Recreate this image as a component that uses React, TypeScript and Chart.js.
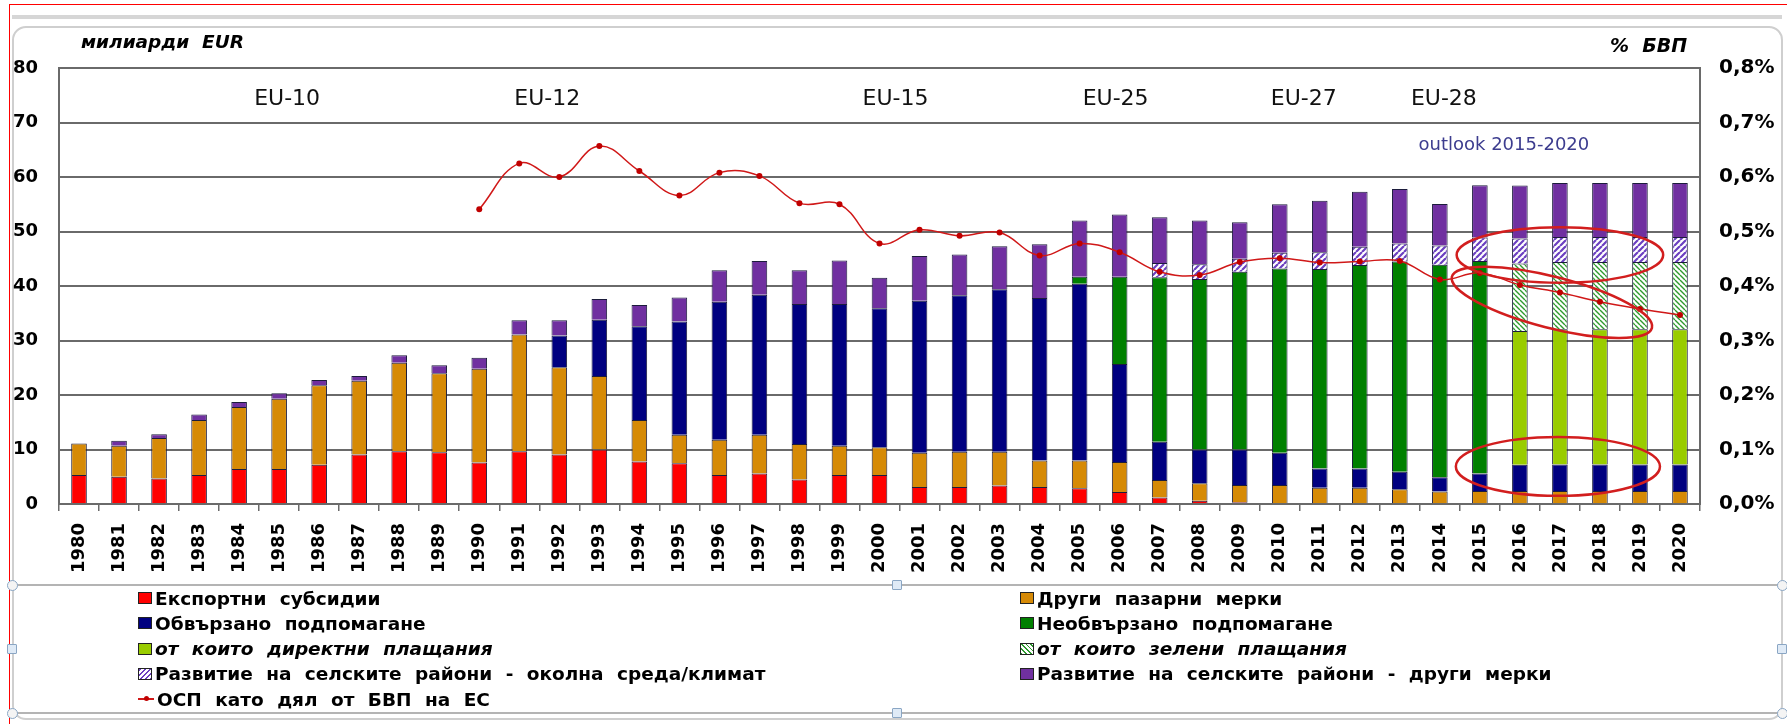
import React, { useEffect, useRef } from 'react';
import { Chart, registerables } from 'chart.js';

Chart.register(...registerables);

// ---------------- DATA ----------------
const years = ['1980','1981','1982','1983','1984','1985','1986','1987','1988','1989','1990','1991','1992','1993','1994','1995','1996','1997','1998','1999','2000','2001','2002','2003','2004','2005','2006','2007','2008','2009','2010','2011','2012','2013','2014','2015','2016','2017','2018','2019','2020'];

// billion EUR, stacked segments
const exportSubsidies = [5.3,5.0,4.7,5.3,6.4,6.4,7.2,9.1,9.7,9.5, 7.6,9.7,9.1,10.0,7.8,7.5,5.3,5.6,4.5,5.3, 5.3,3.1,3.1,3.4,3.1,2.9,2.2,1.2,0.6,0.3, null,null,null,null,null,null,null,null,null,null,null];
const otherMarketMeasures = [5.8,5.7,7.4,10.1,11.4,12.9,14.6,13.5,16.2,14.5, 17.2,21.4,16.0,13.5,7.6,5.2,6.5,7.1,6.5,5.4, 5.1,6.3,6.5,6.2,4.9,5.1,5.5,3.2,3.2,3.2, 3.5,3.0,3.0,2.7,2.3,2.4,2.4,2.4,2.4,2.4,2.4];
const coupledSupport = [null,null,null,null,null,null,null,null,null,null,null,null, 5.8,10.3,17.2,20.8,25.3,25.7,25.7,26.0, 25.5,27.9,28.7,29.8,29.8,32.4,18.0,7.0,6.2,6.5, 5.9,3.5,3.5,3.2,2.6,3.2,4.8,4.85,4.85,4.85,4.85];
const decoupledSupport = [null,null,null,null,null,null,null,null,null,null,null,null,null,null,null,null,null,null,null,null,null,null,null,null,null, 1.3,16.0,30.2,31.3,32.6, 33.8,36.6,37.35,38.6,39.0,39.0, null,null,null,null,null];
const directPayments = [null,null,null,null,null,null,null,null,null,null,null,null,null,null,null,null,null,null,null,null,null,null,null,null,null,null,null,null,null,null,null,null,null,null,null,null, 24.55,24.8,24.8,24.8,24.8];
const greeningPayments = [null,null,null,null,null,null,null,null,null,null,null,null,null,null,null,null,null,null,null,null,null,null,null,null,null,null,null,null,null,null,null,null,null,null,null,null, 12.4,12.35,12.35,12.35,12.35];
const rdEnvironment = [null,null,null,null,null,null,null,null,null,null,null,null,null,null,null,null,null,null,null,null,null,null,null,null,null,null,null, 2.6,2.7,2.4,2.9,3.1,3.35,3.3,3.55,4.3,4.55,4.6,4.6,4.6,4.6];
const rdOther = [null,0.9,0.7,1.0,0.9,1.0,0.95,0.9,1.4,1.45, 2.05,2.6,2.8,3.8,3.9,4.4,5.8,6.2,6.2,8.0, 5.6,8.2,7.5,7.9,9.85,10.3,11.4,8.4,8.0,6.7, 8.9,9.45,10.1,10.0,7.6,9.6,9.75,9.9,9.9,9.9,9.9];

// % of EU GDP (right axis)
const capShareGdp = [null,null,null,null,null,null,null,null,null,null, 0.541,0.625,0.600,0.657,0.611,0.566,0.608,0.602,0.552,0.550, 0.478,0.503,0.492,0.498,0.456,0.478,0.462,0.426,0.420,0.444, 0.451,0.443,0.445,0.446,0.412,0.424,0.402,0.388,0.371,0.358,0.347];

const leftTicks = [0, 10, 20, 30, 40, 50, 60, 70, 80];
const rightTicks = [0, 0.1, 0.2, 0.3, 0.4, 0.5, 0.6, 0.7, 0.8];

// enlargement labels: text + category (fractional index) where centred
const euLabels = ['EU-10', 'EU-12', 'EU-15', 'EU-25', 'EU-27', 'EU-28'];
const euLabelAt = [5.2, 11.7, 20.4, 25.9, 30.6, 34.1];
const outlookLabel = 'outlook 2015-2020';

// hand-drawn ellipse annotations (data units)
const ellipseAt = [37.0, 36.8, 36.95];
const ellipseValue = [45.7, 37.0, 6.9];
const ellipseHalfCats = [2.58, 2.58, 2.55];
const ellipseHalfValue = [5.1, 4.7, 5.4];
const ellipseTilt = [0, 0.25, 0];

const names = {
  exp: 'Експортни субсидии',
  oth: 'Други пазарни мерки',
  cpl: 'Обвързано подпомагане',
  dcp: 'Необвързано подпомагане',
  dir: 'от които директни плащания',
  grn: 'от които зелени плащания',
  rde: 'Развитие на селските райони - околна среда/климат',
  rdo: 'Развитие на селските райони - други мерки',
  cap: 'ОСП като дял от БВП на ЕС',
};

const C = {
  red: '#FF0000',
  orange: '#D68A06',
  navy: '#000080',
  green: '#008000',
  lgreen: '#99CC00',
  hgreen: '#2E9A2E',
  hpurple: '#6B3FC0',
  purple: '#7030A0',
  line: '#D01818',
  border: '#1c1c3c',
};

function makeHatch(color: string, forward: boolean, size: number, lw: number) {
  const c = document.createElement('canvas');
  c.width = size; c.height = size;
  const g = c.getContext('2d')!;
  g.fillStyle = '#ffffff';
  g.fillRect(0, 0, size, size);
  g.strokeStyle = color;
  g.lineWidth = lw;
  g.beginPath();
  for (let k = -1; k <= 1; k++) {
    if (forward) {
      g.moveTo(k * size, size); g.lineTo(k * size + size, 0);
    } else {
      g.moveTo(k * size, 0); g.lineTo(k * size + size, size);
    }
  }
  g.stroke();
  const pat = g.createPattern(c, 'repeat');
  return pat as CanvasPattern;
}

const FONT = '"DejaVu Sans", Verdana, sans-serif';

const annotations = {
  id: 'annotations',
  afterDatasetsDraw(chart: any) {
    const { ctx } = chart;
    const x = chart.scales.x;
    const y = chart.scales.y;
    ctx.save();
    // ellipses
    ctx.strokeStyle = '#D21E1E';
    ctx.lineWidth = 2.5;
    for (let i = 0; i < ellipseAt.length; i++) {
      const cx = x.getPixelForValue(ellipseAt[i]);
      const cy = y.getPixelForValue(ellipseValue[i]);
      const rx = x.getPixelForValue(ellipseAt[i] + ellipseHalfCats[i]) - cx;
      const ry = cy - y.getPixelForValue(ellipseValue[i] + ellipseHalfValue[i]);
      ctx.beginPath();
      ctx.ellipse(cx, cy, rx, ry, ellipseTilt[i], 0, Math.PI * 2);
      ctx.stroke();
    }
    // EU labels
    ctx.fillStyle = '#111';
    ctx.font = `22px ${FONT}`;
    ctx.textAlign = 'center';
    ctx.textBaseline = 'middle';
    for (let i = 0; i < euLabels.length; i++) {
      ctx.fillText(euLabels[i], x.getPixelForValue(euLabelAt[i]), y.getPixelForValue(74.3));
    }
    ctx.fillStyle = '#3D3D8F';
    ctx.font = `18px ${FONT}`;
    ctx.fillText(outlookLabel, x.getPixelForValue(35.6), y.getPixelForValue(65.9));
    // axis titles
    ctx.fillStyle = '#000';
    ctx.textAlign = 'left';
    ctx.font = `italic bold 18.5px ${FONT}`;
    ctx.fillText('милиарди  EUR', 81, 43);
    ctx.font = `italic bold 19px ${FONT}`;
    ctx.fillText('%  БВП', 1610, 47);
    ctx.restore();
  },
};

type Entry = { key: keyof typeof names; kind: 'solid' | 'hatchP' | 'hatchG' | 'line'; color: string; italic?: boolean };
const legendLeft: Entry[] = [
  { key: 'exp', kind: 'solid', color: C.red },
  { key: 'cpl', kind: 'solid', color: C.navy },
  { key: 'dir', kind: 'solid', color: C.lgreen, italic: true },
  { key: 'rde', kind: 'hatchP', color: C.hpurple },
  { key: 'cap', kind: 'line', color: C.line },
];
const legendRight: Entry[] = [
  { key: 'oth', kind: 'solid', color: C.orange },
  { key: 'dcp', kind: 'solid', color: C.green },
  { key: 'grn', kind: 'hatchG', color: C.hgreen, italic: true },
  { key: 'rdo', kind: 'solid', color: C.purple },
];

function Swatch({ e }: { e: Entry }) {
  if (e.kind === 'line') {
    return (
      <div style={{ position: 'relative', width: 16, height: 12 }}>
        <div style={{ position: 'absolute', left: 0, top: 5, width: 16, height: 2, background: e.color }} />
        <div style={{ position: 'absolute', left: 6, top: 3, width: 5, height: 5, borderRadius: 3, background: '#C00000' }} />
      </div>
    );
  }
  let bg = e.color;
  if (e.kind === 'hatchP') bg = `repeating-linear-gradient(135deg, ${e.color} 0 1.6px, #fff 1.6px 3.6px)`;
  if (e.kind === 'hatchG') bg = `repeating-linear-gradient(45deg, ${e.color} 0 1.3px, #fff 1.3px 3.3px)`;
  return <div style={{ width: 12, height: 10, background: bg, border: '1.5px solid #222' }} />;
}

function LegendItem({ e, left, cy }: { e: Entry; left: number; cy: number }) {
  return (
    <div style={{ position: 'absolute', left, top: cy - 12, height: 24, display: 'flex', alignItems: 'center', whiteSpace: 'nowrap' }}>
      <Swatch e={e} />
      <span style={{ marginLeft: 3, font: `${e.italic ? 'italic ' : ''}bold 18.5px ${FONT}`, wordSpacing: 7, color: '#000' }}>{names[e.key]}</span>
    </div>
  );
}

function Handle({ x, y, round }: { x: number; y: number; round?: boolean }) {
  const s = round ? 11 : 10;
  return (
    <div style={{ position: 'absolute', left: x - s / 2, top: y - s / 2, width: s - 2, height: s - 2, border: '1px solid #8aa6c4', background: round ? '#f4f4f4' : '#dfeaf6', borderRadius: round ? '50%' : 1 }} />
  );
}

export default function App() {
  const ref = useRef<HTMLCanvasElement>(null);

  useEffect(() => {
    const canvas = ref.current!;
    const hatchPurple = makeHatch(C.hpurple, true, 6, 2.2);
    const hatchGreen = makeHatch(C.hgreen, false, 5, 1.4);
    const bar = (label: string, data: (number | null)[], bg: any) => ({
      type: 'bar' as const,
      label,
      data,
      backgroundColor: bg,
      borderColor: C.border,
      borderWidth: 1,
      barPercentage: 0.39,
      categoryPercentage: 1,
      yAxisID: 'y',
      order: 1,
    });
    const chart = new Chart(canvas, {
      data: {
        labels: years,
        datasets: [
          {
            type: 'line',
            label: names.cap,
            data: capShareGdp,
            yAxisID: 'y1',
            borderColor: C.line,
            borderWidth: 1.5,
            tension: 0.4,
            pointRadius: 3,
            pointBackgroundColor: '#C00000',
            pointBorderWidth: 0,
            order: 0,
          } as any,
          bar(names.exp, exportSubsidies, C.red),
          bar(names.oth, otherMarketMeasures, C.orange),
          bar(names.cpl, coupledSupport, C.navy),
          bar(names.dcp, decoupledSupport, C.green),
          bar(names.dir, directPayments, C.lgreen),
          bar(names.grn, greeningPayments, hatchGreen),
          bar(names.rde, rdEnvironment, hatchPurple),
          bar(names.rdo, rdOther, C.purple),
        ],
      },
      options: {
        responsive: false,
        animation: false,
        events: [],
        layout: { padding: { top: 68, bottom: 140, left: 0, right: 0 } },
        plugins: { legend: { display: false }, tooltip: { enabled: false }, title: { display: false } },
        scales: {
          x: {
            stacked: true,
            offset: true,
            grid: { display: true, drawOnChartArea: false, drawTicks: true, tickLength: 7, color: '#6a6a6a', lineWidth: 1.5, offset: true },
            border: { display: true, color: '#6a6a6a', width: 2 },
            ticks: { autoSkip: false, maxRotation: 90, minRotation: 90, padding: 12, color: '#000', font: { family: FONT, weight: 'bold', size: 18 } },
            afterFit: (s: any) => { s.height = 80; },
          },
          y: {
            stacked: true,
            min: leftTicks[0],
            max: leftTicks[leftTicks.length - 1],
            afterBuildTicks: (s: any) => { s.ticks = leftTicks.map((v) => ({ value: v })); },
            ticks: { padding: 21, color: '#000', font: { family: FONT, weight: 'bold', size: 18 } },
            grid: { color: '#6a6a6a', lineWidth: 2, drawTicks: false },
            border: { display: true, color: '#6a6a6a', width: 2 },
            afterFit: (s: any) => { s.width = 59; },
          },
          y1: {
            position: 'right',
            min: rightTicks[0],
            max: rightTicks[rightTicks.length - 1],
            afterBuildTicks: (s: any) => { s.ticks = rightTicks.map((v) => ({ value: v })); },
            ticks: {
              padding: 19,
              color: '#000',
              font: { family: FONT, weight: 'bold', size: 20 },
              callback: (v: any) => Number(v).toFixed(1).replace('.', ',') + '%',
            },
            grid: { drawOnChartArea: false, drawTicks: false },
            border: { display: true, color: '#6a6a6a', width: 2 },
            afterFit: (s: any) => { s.width = 87; },
          },
        },
      } as any,
      plugins: [annotations],
    });
    return () => chart.destroy();
  }, []);

  const rows = [598, 623.3, 648.6, 673.9, 699.2];

  return (
    <div style={{ position: 'absolute', left: 0, top: 0, width: 1787, height: 724, background: '#fff', overflow: 'hidden' }}>
      {/* screenshot frame */}
      <div style={{ position: 'absolute', left: 9, top: 4, width: 1778, height: 720, borderLeft: '1px solid #ff0000', borderTop: '1px solid #ff0000' }} />
      <div style={{ position: 'absolute', left: 12, top: 15, width: 1770, height: 4, background: '#d6d6d6' }} />
      <div style={{ position: 'absolute', left: 12, top: 26, width: 1767, height: 690, border: '2px solid #cfcfcf', borderRadius: 14 }} />
      <div style={{ position: 'absolute', left: 12, top: 584, width: 1770, height: 2, background: '#b4b4b4' }} />
      <div style={{ position: 'absolute', left: 12, top: 712, width: 1770, height: 2, background: '#b4b4b4' }} />
      <canvas ref={ref} width={1787} height={724} style={{ position: 'absolute', left: 0, top: 0 }} />
      {legendLeft.map((e, i) => <LegendItem key={e.key} e={e} left={138} cy={rows[i]} />)}
      {legendRight.map((e, i) => <LegendItem key={e.key} e={e} left={1020} cy={rows[i]} />)}
      <Handle x={12} y={585} round />
      <Handle x={1782} y={585} round />
      <Handle x={12} y={713} round />
      <Handle x={1782} y={713} round />
      <Handle x={897} y={585} />
      <Handle x={897} y={713} />
      <Handle x={12} y={649} />
      <Handle x={1782} y={649} />
    </div>
  );
}
